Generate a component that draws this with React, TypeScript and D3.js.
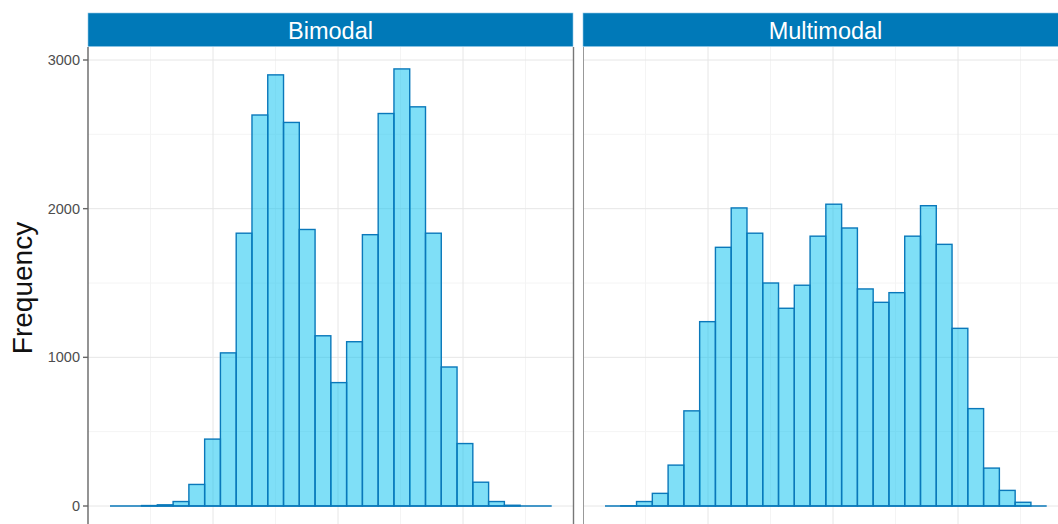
import React from 'react';
import * as d3 from 'd3';

// histogram counts per bin
const panels = ['Bimodal', 'Multimodal'];
const bimodalCounts = [0, 0, 3, 8, 30, 145, 450, 1030, 1835, 2630, 2900, 2580, 1860, 1145, 830, 1105, 1825, 2640, 2940, 2685, 1835, 935, 420, 160, 30, 5, 0, 0];
const multimodalCounts = [0, 1, 30, 85, 275, 640, 1240, 1740, 2005, 1835, 1500, 1330, 1485, 1815, 2030, 1870, 1460, 1370, 1435, 1815, 2020, 1760, 1195, 655, 255, 105, 25, 0];
const binLow = -1.824;
const binWidth = 0.1262;
const yTicks = [0, 1000, 2000, 3000];
const yMinor = [500, 1500, 2500];
const xMajor = [-1, 0, 1];
const xMinor = [-1.5, -0.5, 0.5, 1.5];

const W = 1058, H = 524;
const panelW = 485;
const panelX = [88, 583];
const panelTop = 47;
const stripTop = 13;
const font = "'Liberation Sans', Arial, sans-serif";

const x = d3.scaleLinear().domain([-2, 1.88]).range([0, panelW]);
const y = d3.scaleLinear().domain([0, 3000]).range([506, 60]);

const Panel = ({ left, name, counts }: { left: number; name: string; counts: number[] }) => {
  const bins = counts.map((c, i) => ({ x0: binLow + i * binWidth, x1: binLow + (i + 1) * binWidth, c }));
  return (
    <g transform={`translate(${left},0)`}>
      <rect x={0} y={panelTop} width={panelW} height={H - panelTop} fill="#fff" />
      {yMinor.map(v => (
        <line key={'ym' + v} x1={0} x2={panelW} y1={y(v)} y2={y(v)} stroke="#F4F4F4" strokeWidth={1} />
      ))}
      {xMinor.map(v => (
        <line key={'xm' + v} x1={x(v)} x2={x(v)} y1={panelTop} y2={H} stroke="#F4F4F4" strokeWidth={1} />
      ))}
      {yTicks.map(v => (
        <line key={'yt' + v} x1={0} x2={panelW} y1={y(v)} y2={y(v)} stroke="#E6E6E6" strokeWidth={1} />
      ))}
      {xMajor.map(v => (
        <line key={'xt' + v} x1={x(v)} x2={x(v)} y1={panelTop} y2={H} stroke="#E6E6E6" strokeWidth={1} />
      ))}
      {bins.map((b, i) => (
        <rect
          key={i}
          x={x(b.x0)}
          y={y(b.c)}
          width={x(b.x1) - x(b.x0)}
          height={y(0) - y(b.c)}
          fill="#00BFF0"
          fillOpacity={0.5}
          stroke="#0A78BA"
          strokeWidth={1.4}
        />
      ))}
      {/* zero-height bins still show their outline along the baseline */}
      <line x1={x(bins[0].x0)} x2={x(bins[bins.length - 1].x1)} y1={y(0)} y2={y(0)} stroke="#0A78BA" strokeWidth={1.4} />
      <rect x={0} y={stripTop} width={panelW} height={panelTop - stripTop - 0.5} fill="#0079B8" stroke="#8FC7E6" strokeWidth={0.6} />
      <text
        x={panelW / 2}
        y={(stripTop + panelTop) / 2 + 8.5}
        textAnchor="middle"
        fill="#fff"
        fontSize={23.5}
        fontFamily={font}
      >
        {name}
      </text>
    </g>
  );
};

export default function App() {
  return (
    <svg width={W} height={H} style={{ position: 'absolute', left: 0, top: 0, background: '#fff' }}>
      <Panel left={panelX[0]} name={panels[0]} counts={bimodalCounts} />
      <Panel left={panelX[1]} name={panels[1]} counts={multimodalCounts} />
      {/* axis lines */}
      <line x1={panelX[0]} x2={panelX[0]} y1={panelTop} y2={H} stroke="#666" strokeWidth={1.4} />
      <line x1={panelX[0] + panelW + 0.5} x2={panelX[0] + panelW + 0.5} y1={panelTop} y2={H} stroke="#777" strokeWidth={1.4} />
      <line x1={panelX[1] + 0.5} x2={panelX[1] + 0.5} y1={panelTop} y2={H} stroke="#999" strokeWidth={1} />
      {yTicks.map(v => (
        <g key={v}>
          <line x1={panelX[0] - 5} x2={panelX[0]} y1={y(v)} y2={y(v)} stroke="#666" strokeWidth={1.4} />
          <text x={panelX[0] - 8} y={y(v) + 5} textAnchor="end" fill="#4D4D4D" fontSize={14.5} fontFamily={font}>
            {v}
          </text>
        </g>
      ))}
      <text
        transform={`translate(32,${288}) rotate(-90)`}
        textAnchor="middle"
        fill="#111"
        fontSize={28}
        fontFamily={font}
      >
        Frequency
      </text>
    </svg>
  );
}
